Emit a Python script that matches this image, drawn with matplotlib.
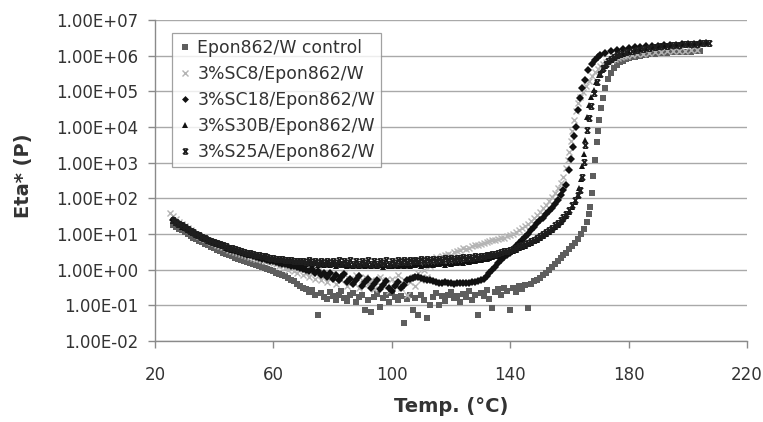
import numpy as np
import matplotlib
matplotlib.use("Agg")
import matplotlib.pyplot as plt
from matplotlib.path import Path
from matplotlib.ticker import FixedLocator, FixedFormatter

# ---------------- data (temperature in °C, log10 of Eta* in P) ----------------
labels = ["Epon862/W control", "3%SC8/Epon862/W", "3%SC18/Epon862/W",
          "3%S30B/Epon862/W", "3%S25A/Epon862/W"]

control_T = [26, 27, 28, 29, 30, 31, 32, 33, 34, 35, 36, 37, 38, 39, 40, 41, 42, 43, 44, 45,
             46, 47, 48, 49, 50, 51, 52, 53, 54, 55, 56, 57, 58, 59, 60, 61, 62, 63, 64, 65,
             66, 67, 68, 69, 70, 71, 72, 73, 74, 75, 76, 77, 78, 79, 80, 81, 82, 83, 84, 85,
             86, 87, 88, 89, 90, 91, 92, 93, 94, 95, 96, 97, 98, 99, 100, 101, 102, 103, 104, 105,
             106, 107, 108, 109, 110, 111, 112, 113, 114, 115, 116, 117, 118, 119, 120, 121, 122, 123, 124, 125,
             126, 127, 128, 129, 130, 131, 132, 133, 134, 135, 136, 137, 138, 139, 140, 141, 142, 143, 144, 145,
             146, 147, 148, 149, 150, 151, 152, 153, 154, 155, 156, 157, 158, 159, 160, 161, 162, 163, 164, 165,
             166, 166.6, 167.1, 167.5, 168, 168.6, 169.2, 169.6, 170.1, 170.7, 171.2, 172, 173, 174, 175, 176, 177, 178, 179, 180,
             181, 182, 183, 184, 185, 186, 187, 188, 189, 190, 191, 192, 193, 194, 195, 196, 197, 198, 199, 200,
             201, 202, 203, 204]
control_log = [1.25, 1.20, 1.15, 1.10, 1.05, 1.00, 0.95, 0.90, 0.86, 0.81, 0.77, 0.72, 0.68, 0.64, 0.60, 0.56, 0.52, 0.48, 0.45, 0.41,
               0.38, 0.34, 0.31, 0.28, 0.25, 0.22, 0.19, 0.16, 0.13, 0.10, 0.07, 0.04, 0.01, -0.02, -0.05, -0.08, -0.12, -0.15, -0.19, -0.23,
               -0.28, -0.33, -0.40, -0.45, -0.52, -0.55, -0.62, -0.58, -0.70, -1.27, -0.66, -0.78, -0.82, -0.64, -0.75, -0.85, -0.70, -0.60, -0.80, -0.88,
               -0.72, -0.65, -0.90, -0.78, -0.70, -1.13, -0.85, -1.20, -0.76, -0.68, -1.05, -0.80, -0.72, -0.90, -0.66, -0.78, -0.86, -0.74, -1.50, -0.82,
               -0.70, -1.13, -0.80, -1.27, -0.72, -0.85, -1.36, -1.00, -0.78, -0.66, -0.99, -0.75, -0.88, -0.70, -0.62, -0.80, -0.74, -0.92, -0.68, -0.78,
               -0.60, -0.85, -0.72, -1.27, -0.66, -0.75, -0.58, -0.82, -1.07, -0.62, -0.55, -0.70, -0.50, -0.60, -1.13, -0.52, -0.62, -0.45, -0.55, -0.42,
               -1.07, -0.40, -0.33, -0.30, -0.22, -0.15, -0.08, 0.00, 0.08, 0.16, 0.24, 0.32, 0.40, 0.48, 0.57, 0.66, 0.76, 0.87, 1.00, 1.15,
               1.35, 1.55, 1.75, 2.16, 2.63, 3.07, 3.59, 3.90, 4.20, 4.52, 4.81, 5.10, 5.35, 5.52, 5.65, 5.74, 5.81, 5.86, 5.90, 5.93,
               5.95, 5.97, 5.98, 6.00, 6.01, 6.03, 6.04, 6.05, 6.06, 6.07, 6.07, 6.08, 6.08, 6.09, 6.09, 6.10, 6.10, 6.10, 6.11, 6.11,
               6.11, 6.12, 6.12, 6.12]

sc8_T = [25, 26, 27, 28, 29, 30, 31, 32, 33, 34, 35, 36, 37, 38, 39, 40, 41, 42, 43, 44,
         45, 46, 47, 48, 49, 50, 51, 52, 53, 54, 55, 56, 57, 58, 59, 60, 61, 62, 63, 64,
         65, 66, 67, 68, 69, 70, 71, 72, 73, 74, 75, 76, 77, 78, 79, 80, 81, 82, 83, 84,
         85, 86, 87, 88, 89, 90, 91, 92, 93, 94, 95, 96, 97, 98, 99, 100, 101, 102, 103, 104,
         105, 106, 107, 108, 109, 110, 111, 112, 113, 114, 115, 116, 117, 118, 119, 120, 121, 122, 123, 124,
         125, 126, 127, 128, 129, 130, 131, 132, 133, 134, 135, 136, 137, 138, 139, 140, 141, 142, 143, 144,
         145, 146, 147, 148, 149, 150, 151, 152, 153, 154, 155, 156, 157, 158, 159, 159.5, 160, 160.5, 161, 161.6,
         162.2, 162.8, 163.6, 164.5, 165.5, 166.5, 167.5, 168.5, 169.5, 170.5, 171.5, 172.5, 173.5, 174.5, 175.5, 176.5, 177.5, 178.5, 179.5, 181,
         183, 185, 187, 189, 191, 193, 195, 197, 199, 201, 203]
sc8_log = [1.60, 1.50, 1.42, 1.35, 1.28, 1.22, 1.16, 1.10, 1.05, 1.00, 0.95, 0.90, 0.86, 0.82, 0.78, 0.74, 0.70, 0.66, 0.63, 0.60,
           0.56, 0.53, 0.50, 0.47, 0.44, 0.41, 0.39, 0.36, 0.34, 0.31, 0.29, 0.27, 0.25, 0.23, 0.21, 0.19, 0.15, 0.10, 0.12, 0.05,
           0.00, 0.08, -0.05, -0.10, 0.02, -0.15, -0.08, -0.20, -0.10, -0.25, -0.05, -0.30, -0.15, -0.35, -0.20, -0.10, -0.40, -0.22, -0.30, -0.12,
           -0.45, -0.25, -0.35, -0.15, -0.50, -0.30, -0.20, -0.40, -0.28, -0.55, -0.35, -0.20, -0.45, -0.30, -0.60, -0.25, -0.40, -0.15, -0.50, -0.30,
           -0.70, -0.35, -0.20, -0.45, -0.10, -0.30, 0.00, -0.20, 0.10, 0.20, 0.35, 0.30, 0.38, 0.40, 0.45, 0.42, 0.50, 0.52, 0.55, 0.60,
           0.58, 0.62, 0.65, 0.68, 0.70, 0.72, 0.75, 0.78, 0.80, 0.82, 0.84, 0.86, 0.88, 0.90, 0.93, 0.96, 1.00, 1.05, 1.10, 1.16,
           1.22, 1.29, 1.36, 1.44, 1.52, 1.62, 1.72, 1.82, 1.93, 2.04, 2.16, 2.28, 2.42, 2.60, 2.85, 3.07, 3.30, 3.60, 3.90, 4.20,
           4.45, 4.67, 4.85, 4.98, 5.15, 5.30, 5.43, 5.54, 5.63, 5.70, 5.76, 5.81, 5.85, 5.88, 5.91, 5.94, 5.96, 5.98, 6.00, 6.02,
           6.04, 6.06, 6.08, 6.10, 6.11, 6.12, 6.13, 6.14, 6.14, 6.15, 6.15]

sc18_T = [26, 27, 28, 29, 30, 31, 32, 33, 34, 35, 36, 37, 38, 39, 40, 41, 42, 43, 44, 45,
          46, 47, 48, 49, 50, 51, 52, 53, 54, 55, 56, 57, 58, 59, 60, 61, 62, 63, 64, 65,
          66, 67, 68, 69, 70, 71, 72, 73, 74, 75, 76, 77, 78, 79, 80, 81, 82, 83, 84, 85,
          86, 87, 88, 89, 90, 91, 92, 93, 94, 95, 96, 97, 98, 99, 100, 101, 102, 103, 104, 105,
          106, 107, 108, 109, 110, 111, 112, 113, 114, 115, 116, 117, 118, 119, 120, 121, 122, 123, 124, 125,
          126, 127, 128, 129, 130, 131, 132, 133, 134, 135, 136, 137, 138, 139, 140, 141, 142, 143, 144, 145,
          146, 147, 148, 149, 150, 151, 152, 153, 154, 155, 156, 157, 158, 159, 160, 160.5, 161.1, 161.6, 162.2, 162.8,
          163.5, 164.2, 165.3, 166.4, 167.5, 168.5, 169.5, 170.5, 172, 174, 176, 178, 180, 182, 184, 186, 188, 190, 192, 194,
          196, 198, 200, 202, 204, 206]
sc18_log = [1.38, 1.32, 1.27, 1.22, 1.17, 1.12, 1.07, 1.03, 0.98, 0.94, 0.90, 0.86, 0.82, 0.78, 0.75, 0.71, 0.68, 0.65, 0.62, 0.59,
            0.56, 0.53, 0.50, 0.47, 0.45, 0.42, 0.40, 0.38, 0.35, 0.33, 0.31, 0.29, 0.27, 0.25, 0.23, 0.21, 0.19, 0.17, 0.15, 0.13,
            0.11, 0.09, 0.07, 0.05, 0.03, 0.00, -0.05, 0.02, -0.10, -0.03, -0.15, -0.08, -0.20, -0.10, -0.25, -0.15, -0.30, -0.20, -0.12, -0.35,
            -0.25, -0.40, -0.30, -0.18, -0.45, -0.35, -0.25, -0.50, -0.40, -0.30, -0.55, -0.42, -0.33, -0.50, -0.60, -0.45, -0.35, -0.52, -0.42, -0.30,
            -0.25, -0.22, -0.20, -0.20, -0.22, -0.25, -0.28, -0.30, -0.32, -0.35, -0.36, -0.36, -0.35, -0.36, -0.38, -0.40, -0.38, -0.36, -0.37, -0.38,
            -0.36, -0.35, -0.34, -0.33, -0.30, -0.25, -0.18, -0.10, 0.00, 0.08, 0.18, 0.28, 0.36, 0.42, 0.48, 0.56, 0.65, 0.74, 0.83, 0.92,
            1.00, 1.10, 1.20, 1.30, 1.38, 1.46, 1.55, 1.64, 1.74, 1.85, 1.96, 2.08, 2.22, 2.37, 2.80, 3.10, 3.45, 3.75, 4.00, 4.48,
            4.80, 5.09, 5.32, 5.60, 5.76, 5.87, 5.95, 6.01, 6.07, 6.12, 6.16, 6.19, 6.21, 6.23, 6.25, 6.26, 6.27, 6.28, 6.29, 6.30,
            6.31, 6.32, 6.33, 6.34, 6.35, 6.36]

s30b_T = [26, 27, 28, 29, 30, 31, 32, 33, 34, 35, 36, 37, 38, 39, 40, 41, 42, 43, 44, 45,
          46, 47, 48, 49, 50, 51, 52, 53, 54, 55, 56, 57, 58, 59, 60, 61, 62, 63, 64, 65,
          66, 67, 68, 69, 70, 71, 72, 73, 74, 75, 76, 77, 78, 79, 80, 81, 82, 83, 84, 85,
          86, 87, 88, 89, 90, 91, 92, 93, 94, 95, 96, 97, 98, 99, 100, 101, 102, 103, 104, 105,
          106, 107, 108, 109, 110, 111, 112, 113, 114, 115, 116, 117, 118, 119, 120, 121, 122, 123, 124, 125,
          126, 127, 128, 129, 130, 131, 132, 133, 134, 135, 136, 137, 138, 139, 140, 141, 142, 143, 144, 145,
          146, 147, 148, 149, 150, 151, 152, 153, 154, 155, 156, 157, 158, 159, 160, 161, 162, 162.8, 163.4, 164,
          164.4, 164.8, 165.3, 165.9, 166.6, 167.4, 168.2, 169, 170, 171, 172, 173, 174, 175, 176, 177, 178, 179, 180, 182,
          184, 186, 188, 190, 192, 194, 196, 198, 200, 202, 204, 206]
s30b_log = [1.36, 1.31, 1.26, 1.21, 1.16, 1.11, 1.06, 1.02, 0.97, 0.93, 0.89, 0.85, 0.81, 0.78, 0.74, 0.71, 0.68, 0.65, 0.62, 0.59,
            0.56, 0.54, 0.51, 0.49, 0.46, 0.44, 0.42, 0.40, 0.38, 0.36, 0.34, 0.32, 0.31, 0.29, 0.28, 0.26, 0.25, 0.24, 0.23, 0.22,
            0.21, 0.20, 0.19, 0.19, 0.18, 0.17, 0.19, 0.15, 0.18, 0.14, 0.17, 0.13, 0.16, 0.12, 0.15, 0.11, 0.15, 0.12, 0.14, 0.10,
            0.13, 0.11, 0.14, 0.09, 0.12, 0.10, 0.13, 0.09, 0.12, 0.10, 0.13, 0.08, 0.12, 0.10, 0.11, 0.12, 0.09, 0.13, 0.11, 0.14,
            0.10, 0.13, 0.12, 0.15, 0.11, 0.14, 0.13, 0.16, 0.12, 0.16, 0.15, 0.18, 0.14, 0.18, 0.17, 0.20, 0.18, 0.21, 0.20, 0.23,
            0.22, 0.25, 0.24, 0.27, 0.28, 0.30, 0.31, 0.33, 0.35, 0.37, 0.39, 0.42, 0.44, 0.47, 0.50, 0.53, 0.56, 0.60, 0.63, 0.67,
            0.71, 0.75, 0.79, 0.84, 0.89, 0.94, 1.00, 1.06, 1.12, 1.19, 1.26, 1.34, 1.42, 1.51, 1.62, 1.75, 1.90, 2.08, 2.30, 2.55,
            2.90, 3.25, 3.64, 4.29, 4.62, 4.85, 5.05, 5.25, 5.45, 5.60, 5.72, 5.81, 5.88, 5.94, 5.99, 6.03, 6.06, 6.09, 6.11, 6.15,
            6.18, 6.21, 6.23, 6.25, 6.27, 6.29, 6.30, 6.32, 6.33, 6.34, 6.35, 6.36]

s25a_T = [26, 27, 28, 29, 30, 31, 32, 33, 34, 35, 36, 37, 38, 39, 40, 41, 42, 43, 44, 45,
          46, 47, 48, 49, 50, 51, 52, 53, 54, 55, 56, 57, 58, 59, 60, 61, 62, 63, 64, 65,
          66, 67, 68, 69, 70, 71, 72, 73, 74, 75, 76, 77, 78, 79, 80, 81, 82, 83, 84, 85,
          86, 87, 88, 89, 90, 91, 92, 93, 94, 95, 96, 97, 98, 99, 100, 101, 102, 103, 104, 105,
          106, 107, 108, 109, 110, 111, 112, 113, 114, 115, 116, 117, 118, 119, 120, 121, 122, 123, 124, 125,
          126, 127, 128, 129, 130, 131, 132, 133, 134, 135, 136, 137, 138, 139, 140, 141, 142, 143, 144, 145,
          146, 147, 148, 149, 150, 151, 152, 153, 154, 155, 156, 157, 158, 159, 160, 161, 162, 162.8, 163.6, 164.2,
          164.8, 165.3, 165.9, 166.5, 167.3, 168.2, 169.2, 170.2, 171.2, 172.2, 173.2, 174.2, 175.2, 176.2, 177, 179, 181, 183, 185, 187,
          189, 191, 193, 195, 197, 199, 201, 203, 205, 207]
s25a_log = [1.40, 1.34, 1.29, 1.24, 1.19, 1.14, 1.09, 1.05, 1.00, 0.96, 0.92, 0.88, 0.84, 0.81, 0.77, 0.74, 0.71, 0.68, 0.65, 0.62,
            0.60, 0.57, 0.55, 0.52, 0.50, 0.48, 0.46, 0.44, 0.42, 0.40, 0.38, 0.37, 0.35, 0.34, 0.32, 0.31, 0.30, 0.29, 0.28, 0.27,
            0.26, 0.25, 0.25, 0.24, 0.23, 0.22, 0.26, 0.21, 0.25, 0.20, 0.24, 0.19, 0.25, 0.18, 0.23, 0.19, 0.26, 0.17, 0.24, 0.18,
            0.26, 0.16, 0.24, 0.17, 0.25, 0.18, 0.26, 0.16, 0.24, 0.17, 0.25, 0.18, 0.27, 0.17, 0.24, 0.20, 0.26, 0.21, 0.27, 0.22,
            0.27, 0.23, 0.28, 0.24, 0.29, 0.25, 0.29, 0.26, 0.30, 0.27, 0.31, 0.28, 0.32, 0.30, 0.33, 0.31, 0.34, 0.32, 0.35, 0.33,
            0.36, 0.34, 0.37, 0.36, 0.38, 0.38, 0.40, 0.41, 0.43, 0.45, 0.47, 0.49, 0.51, 0.53, 0.56, 0.59, 0.62, 0.65, 0.68, 0.72,
            0.76, 0.80, 0.84, 0.89, 0.94, 0.99, 1.05, 1.11, 1.17, 1.24, 1.31, 1.39, 1.47, 1.56, 1.66, 1.80, 1.95, 2.10, 2.23, 2.60,
            3.03, 3.50, 3.92, 4.25, 4.60, 4.95, 5.27, 5.50, 5.65, 5.76, 5.85, 5.92, 5.97, 6.01, 6.04, 6.09, 6.13, 6.16, 6.19, 6.22,
            6.24, 6.26, 6.28, 6.29, 6.31, 6.32, 6.33, 6.34, 6.35, 6.36]

x_ticks = [20, 60, 100, 140, 180, 220]
y_ticks = [1e-2, 1e-1, 1e0, 1e1, 1e2, 1e3, 1e4, 1e5, 1e6, 1e7]
y_tick_labels = ["1.00E-02", "1.00E-01", "1.00E+00", "1.00E+01", "1.00E+02",
                 "1.00E+03", "1.00E+04", "1.00E+05", "1.00E+06", "1.00E+07"]

# ---------------- figure ----------------
plt.rcParams['font.family'] = ['DejaVu Sans']
fig = plt.figure(figsize=(7.63, 4.22), dpi=100)
ax = fig.add_axes([155 / 763, 81 / 422, 592 / 763, 321 / 422])

star_path = Path([(-1, -1), (1, 1), (-1, 1), (1, -1), (-0.7, 1), (0.7, 1), (-0.7, -1), (0.7, -1)],
                 [Path.MOVETO, Path.LINETO] * 4)

series = [
    (control_T, control_log, dict(marker='s', ms=4.2, mfc='#5e5e5e', mec='#5e5e5e', mew=0)),
    (sc8_T, sc8_log, dict(marker='x', ms=4.0, mec='#b4b4b4', mew=1.0)),
    (sc18_T, sc18_log, dict(marker='D', ms=3.7, mfc='#111111', mec='#111111', mew=0)),
    (s30b_T, s30b_log, dict(marker='^', ms=4.4, mfc='#111111', mec='#111111', mew=0)),
    (s25a_T, s25a_log, dict(marker=star_path, ms=3.9, mfc='none', mec='#1e1e1e', mew=1.1)),
]
for (t, lg, style), lab in zip(series, labels):
    ax.plot(t, 10 ** np.array(lg), linestyle='none', label=lab, **style)

ax.set_yscale('log')
ax.set_xlim(20, 220)
ax.set_ylim(1e-2, 1e7)
ax.yaxis.set_major_locator(FixedLocator(y_ticks))
ax.yaxis.set_major_formatter(FixedFormatter(y_tick_labels))
ax.yaxis.set_minor_locator(FixedLocator([]))
ax.set_xticks(x_ticks)
ax.set_xticklabels([str(v) for v in x_ticks])

ax.grid(axis='y', which='major', color='#a9a9a9', lw=1.0)
ax.set_axisbelow(True)
for s in ['top', 'right']:
    ax.spines[s].set_visible(False)
for s in ['left', 'bottom']:
    ax.spines[s].set_color('#8a8a8a')
    ax.spines[s].set_linewidth(1.0)
ax.tick_params(axis='y', direction='out', length=5, width=1, color='#8a8a8a',
               labelsize=12, labelcolor='#333333', pad=7)
ax.tick_params(axis='x', direction='out', length=5, width=1, color='#8a8a8a',
               labelsize=12, labelcolor='#333333', pad=13)

fig.text(24 / 763, 1 - 176 / 422, 'Eta* (P)', rotation=90, ha='center', va='center',
         fontsize=14, fontweight='bold', color='#333333')
fig.text(451 / 763, 1 - 407 / 422, 'Temp. (°C)', ha='center', va='center',
         fontsize=14, fontweight='bold', color='#333333')

leg = ax.legend(loc='upper left', bbox_to_anchor=(17 / 592, (341 - 33) / 321),
                borderaxespad=0, frameon=True, fancybox=False, fontsize=12.4,
                handlelength=0.8, handletextpad=0.35, labelspacing=0.47,
                borderpad=0.33, markerscale=0.95)
leg.get_frame().set_edgecolor('#8a8a8a')
leg.get_frame().set_linewidth(0.9)
for txt in leg.get_texts():
    txt.set_color('#333333')

fig.savefig('out.png', dpi=100)
